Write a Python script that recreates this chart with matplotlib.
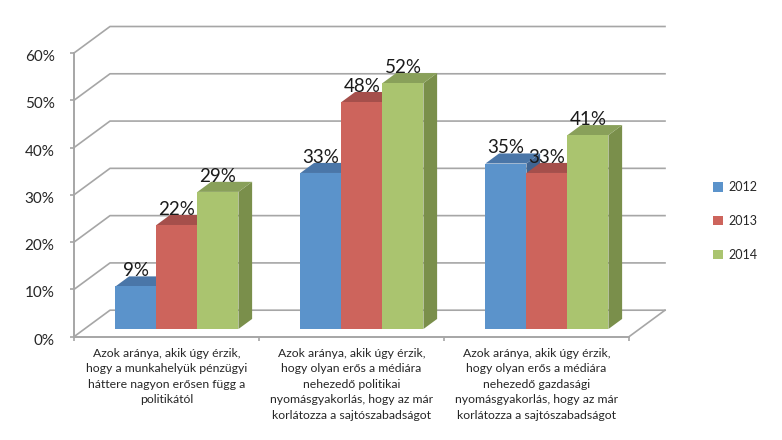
import matplotlib
matplotlib.use("Agg")
import matplotlib.pyplot as plt
from matplotlib.patches import Patch
from matplotlib.transforms import ScaledTranslation

categories = [
    "Azok aránya, akik úgy érzik,\nhogy a munkahelyük pénzügyi\nháttere nagyon erősen függ a\npolitikától",
    "Azok aránya, akik úgy érzik,\nhogy olyan erős a médiára\nnehezedő politikai\nnyomásgyakorlás, hogy az már\nkorlátozza a sajtószabadságot",
    "Azok aránya, akik úgy érzik,\nhogy olyan erős a médiára\nnehezedő gazdasági\nnyomásgyakorlás, hogy az már\nkorlátozza a sajtószabadságot",
]
series_names = ["2012", "2013", "2014"]
values_2012 = [9, 33, 35]
values_2013 = [22, 48, 33]
values_2014 = [29, 52, 41]
y_ticks = [0, 10, 20, 30, 40, 50, 60]

front = ["#5b93cb", "#cd645c", "#aac46f"]
top = ["#4a76a8", "#a54f4b", "#89a05a"]
side = ["#3f6491", "#8c4340", "#7a8f4b"]
grid = "#a6a6a6"
ink = "#262626"

plt.rcParams["font.family"] = ["Lato", "DejaVu Sans"]
W, H = 782, 440
fig = plt.figure(figsize=(W / 100, H / 100), dpi=100)
ax = fig.add_axes([74 / W, (H - 336.7) / H, 555 / W, 283.7 / H])
ax.set_xlim(0, 3)
ax.set_ylim(0, 60)
ax.patch.set_visible(False)

DX = 36 / 185      # depth shift in category units
DY = 26.5 / 4.728  # depth shift in percent


def pt(x, y, d):
    return x + d * DX, y + d * DY


def poly(points, color, z):
    xs, ys = zip(*points)
    ax.fill(xs, ys, color=color, lw=0, zorder=z, clip_on=False)


# walls and floor
for t in y_ticks:
    a, b = pt(0, t, 0), pt(0, t, 1)
    c = pt(3, t, 1)
    ax.plot([a[0], b[0], c[0]], [a[1], b[1], c[1]], color=grid, lw=1.2,
            zorder=1, clip_on=False)
a, b = pt(3, 0, 0), pt(3, 0, 1)
ax.plot([a[0], b[0]], [a[1], b[1]], color=grid, lw=1.2, zorder=1, clip_on=False)

# bars
D0, D1 = 0.29, 0.67
BW = 41 / 185
z = 3
all_values = [values_2012, values_2013, values_2014]
for g in range(3):
    x0 = g + 0.5 - 1.5 * BW
    for s, vals in enumerate(all_values):
        v = vals[g]
        l, r = x0 + s * BW, x0 + (s + 1) * BW
        poly([pt(r, 0, D0), pt(r, 0, D1), pt(r, v, D1), pt(r, v, D0)], side[s], z)
        poly([pt(l, v, D0), pt(r, v, D0), pt(r, v, D1), pt(l, v, D1)], top[s], z)
        poly([pt(l, 0, D0), pt(r, 0, D0), pt(r, v, D0), pt(l, v, D0)], front[s], z + 0.5)
        z += 1

# data labels
for g in range(3):
    x0 = g + 0.5 - 1.5 * BW
    for s, vals in enumerate(all_values):
        v = vals[g]
        cx = x0 + (s + 0.5) * BW
        px = pt(cx, v, D0)[0]
        py = pt(cx, v, D1)[1]
        ax.annotate(f"{v}%", (px, py), xytext=(0, -2), textcoords="offset points",
                    ha="center", va="bottom", fontsize=13.5,
                    color="#1a1a1a", zorder=30, annotation_clip=False)

# axes
for name in ("top", "right"):
    ax.spines[name].set_visible(False)
for name in ("left", "bottom"):
    ax.spines[name].set_color(grid)
    ax.spines[name].set_linewidth(1.4)
ax.set_yticks(y_ticks)
ax.set_yticklabels([f"{t}%" for t in y_ticks], fontsize=11, color=ink)
ax.tick_params(axis="y", length=3, width=1.2, color=grid, pad=11)
shift = ScaledTranslation(0, -2.5 / 100, fig.dpi_scale_trans)
for lab in ax.get_yticklabels():
    lab.set_transform(lab.get_transform() + shift)
ax.set_xticks([0, 1, 2, 3])
ax.set_xticklabels([])
ax.set_xticks([0.5, 1.5, 2.5], minor=True)
ax.set_xticklabels(categories, minor=True, fontsize=8.8, color=ink, linespacing=1.5)
ax.tick_params(axis="x", which="major", length=3, width=1.2, color=grid, direction="out")
ax.tick_params(axis="x", which="minor", length=0, pad=8)

handles = [Patch(facecolor=c, edgecolor="none", label=n) for c, n in zip(front, series_names)]
fig.legend(handles=handles, loc="center left", bbox_to_anchor=(713 / W, (H - 221) / H),
           frameon=False, fontsize=9, labelcolor=ink, handlelength=0.8, handleheight=0.8,
           handletextpad=0.4, labelspacing=1.75, borderpad=0, borderaxespad=0)

fig.savefig("out.png", dpi=100, facecolor="white")
